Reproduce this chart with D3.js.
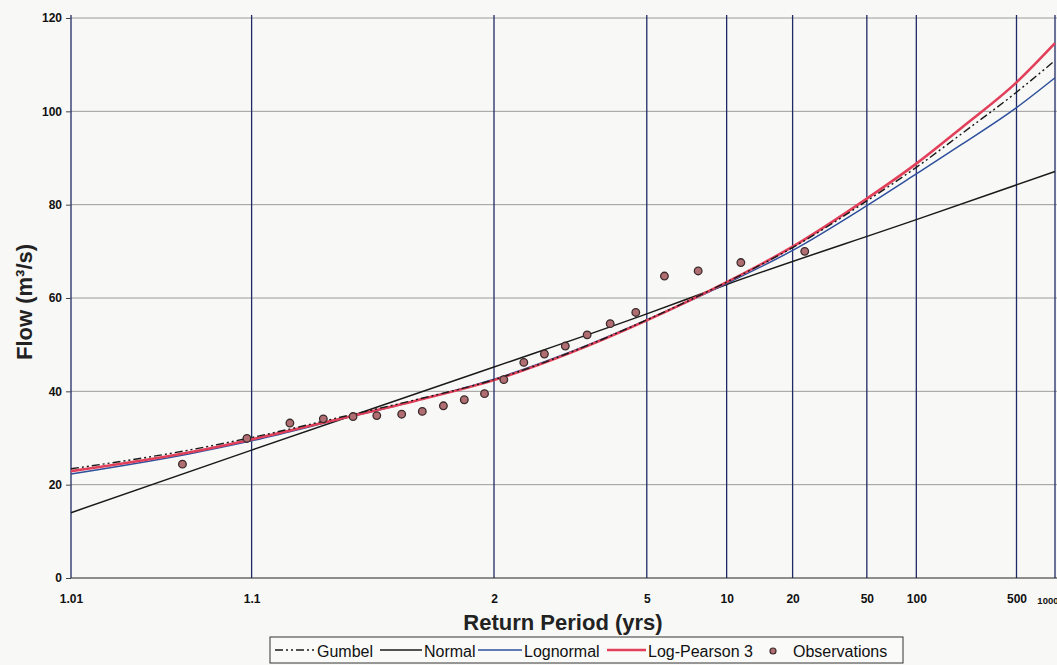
<!DOCTYPE html>
<html>
<head>
<meta charset="utf-8">
<script src="https://cdn.jsdelivr.net/npm/d3@7"></script>
<style>
  body { margin: 0; background: #f8f9f7; }
  text { font-family: "Liberation Sans", Arial, sans-serif; }
</style>
</head>
<body>
<script>
// return periods for the axis / gridlines
var periodTicks = [1.01, 1.1, 2, 5, 10, 20, 50, 100, 500, 1000];
var flowTicks = [0, 20, 40, 60, 80, 100, 120];

// fitted distributions at these return periods
var curvePeriods = [1.01, 1.05, 1.1, 1.25, 1.5, 2, 3, 5, 10, 20, 50, 100, 200, 500, 1000];
var gumbel     = [23.4, 27.5, 30.1, 34.5, 38.2, 42.5, 48.5, 55.3, 63.4, 70.8, 80.8, 88.0, 95.2, 104.1, 110.9];
var lognormal  = [22.3, 26.7, 29.4, 34.1, 38.0, 42.6, 48.6, 55.3, 63.1, 70.2, 79.8, 86.6, 92.9, 100.8, 107.2];
var logPearson = [22.9, 27.0, 29.7, 34.2, 38.0, 42.4, 48.4, 55.2, 63.4, 71.0, 81.3, 88.8, 96.5, 106.2, 114.6];

var normalPeriods = [1.01, 1.1, 2, 5, 10, 100, 1000];
var normal        = [14.0, 27.4, 45.2, 56.6, 62.9, 76.8, 87.1];

// observed annual peaks and their plotting positions
var obsPeriods = [1.045, 1.095, 1.15, 1.21, 1.28, 1.35, 1.44, 1.53, 1.64, 1.77, 1.92,
                  2.09, 2.30, 2.56, 2.88, 3.29, 3.83, 4.60, 5.75, 7.67, 11.5, 23.0];
var obsFlows   = [24.4, 29.9, 33.2, 34.1, 34.6, 34.8, 35.1, 35.7, 36.9, 38.2, 39.5,
                  42.5, 46.2, 48.0, 49.7, 52.1, 54.5, 56.9, 64.7, 65.8, 67.6, 70.0];

var width = 1057, height = 665;
var plotLeft = 71, plotRight = 1055, plotTop = 18, plotBottom = 578;

// inverse normal cdf (Acklam) -> probability paper
function probit(p) {
  var a = [-3.969683028665376e+01, 2.209460984245205e+02, -2.759285104469687e+02, 1.383577518672690e+02, -3.066479806614716e+01, 2.506628277459239e+00];
  var b = [-5.447609879822406e+01, 1.615858368580409e+02, -1.556989798598866e+02, 6.680131188771972e+01, -1.328068155288572e+01];
  var c = [-7.784894002430293e-03, -3.223964580411365e-01, -2.400758277161838e+00, -2.549732539343734e+00, 4.374664141464968e+00, 2.938163982698783e+00];
  var d = [7.784695709041462e-03, 3.224671290700398e-01, 2.445134137142996e+00, 3.754408661907416e+00];
  var q, r;
  if (p < 0.02425) {
    q = Math.sqrt(-2 * Math.log(p));
    return (((((c[0]*q+c[1])*q+c[2])*q+c[3])*q+c[4])*q+c[5]) / ((((d[0]*q+d[1])*q+d[2])*q+d[3])*q+1);
  }
  if (p > 1 - 0.02425) {
    q = Math.sqrt(-2 * Math.log(1 - p));
    return -(((((c[0]*q+c[1])*q+c[2])*q+c[3])*q+c[4])*q+c[5]) / ((((d[0]*q+d[1])*q+d[2])*q+d[3])*q+1);
  }
  q = p - 0.5; r = q * q;
  return (((((a[0]*r+a[1])*r+a[2])*r+a[3])*r+a[4])*r+a[5])*q / (((((b[0]*r+b[1])*r+b[2])*r+b[3])*r+b[4])*r+1);
}
function zt(T) { return probit(1 - 1 / T); }

var x = d3.scaleLinear().domain([zt(1.01), zt(1000)]).range([plotLeft, plotRight]);
var y = d3.scaleLinear().domain([0, 120]).range([plotBottom, plotTop]);

var svg = d3.select("body").append("svg")
    .attr("width", width)
    .attr("height", height);

svg.append("rect").attr("width", width).attr("height", height).attr("fill", "#f8f9f7");

var g = svg.append("g");

// horizontal gridlines
g.selectAll(".hgrid")
    .data(flowTicks.slice(1))
  .enter().append("line")
    .attr("class", "hgrid")
    .attr("x1", plotLeft).attr("x2", width)
    .attr("y1", function(d){ return y(d); })
    .attr("y2", function(d){ return y(d); })
    .attr("stroke", "#9a9c9a")
    .attr("stroke-width", 1);

// vertical gridlines
g.selectAll(".vgrid")
    .data(periodTicks)
  .enter().append("line")
    .attr("class", "vgrid")
    .attr("x1", function(d){ return x(zt(d)); })
    .attr("x2", function(d){ return x(zt(d)); })
    .attr("y1", plotTop - 3).attr("y2", plotBottom)
    .attr("stroke", "#1f2a66")
    .attr("stroke-width", 1.3);

// bottom axis line
g.append("line")
    .attr("x1", plotLeft).attr("x2", width)
    .attr("y1", plotBottom).attr("y2", plotBottom)
    .attr("stroke", "#222").attr("stroke-width", 1.2);

// y axis
var yAxis = g.append("g")
    .attr("transform", "translate(" + plotLeft + ",0)")
    .call(d3.axisLeft(y).tickValues(flowTicks).tickSize(5).tickPadding(4));
yAxis.select(".domain").remove();
yAxis.selectAll("line").attr("stroke", "#444");
yAxis.selectAll("text")
    .style("font-size", "12px")
    .style("font-weight", "bold")
    .attr("fill", "#111");

// x axis (return period on normal probability scale)
var xAxis = g.append("g")
    .attr("transform", "translate(0," + plotBottom + ")")
    .call(d3.axisBottom(x)
      .tickValues(periodTicks.map(zt))
      .tickFormat(function(d, i){ return periodTicks[i]; })
      .tickSize(0).tickPadding(16));
xAxis.select(".domain").remove();
xAxis.selectAll("text")
    .style("font-size", "12px")
    .style("font-weight", "bold")
    .attr("fill", "#111");
xAxis.selectAll("text").filter(function(d, i){ return periodTicks[i] === 1000; })
    .style("font-size", "9.5px")
    .attr("text-anchor", "end")
    .attr("dx", 3)
    .attr("dy", "1.1em");

// curves
function curveLine(periods) {
  return d3.line()
      .x(function(d, i){ return x(zt(periods[i])); })
      .y(function(d){ return y(d); })
      .curve(d3.curveMonotoneX);
}

g.append("path")
    .datum(normal)
    .attr("d", curveLine(normalPeriods))
    .attr("fill", "none")
    .attr("stroke", "#1a1a1a")
    .attr("stroke-width", 1.5);

g.append("path")
    .datum(lognormal)
    .attr("d", curveLine(curvePeriods))
    .attr("fill", "none")
    .attr("stroke", "#2e4f9c")
    .attr("stroke-width", 1.5);

g.append("path")
    .datum(logPearson)
    .attr("d", curveLine(curvePeriods))
    .attr("fill", "none")
    .attr("stroke", "#e2405a")
    .attr("stroke-width", 2.6);

g.append("path")
    .datum(gumbel)
    .attr("d", curveLine(curvePeriods))
    .attr("fill", "none")
    .attr("stroke", "#1a1a1a")
    .attr("stroke-width", 1.4)
    .attr("stroke-dasharray", "8,3,2,3,2,3");

// observations
g.selectAll(".obs")
    .data(obsFlows)
  .enter().append("circle")
    .attr("class", "obs")
    .attr("cx", function(d, i){ return x(zt(obsPeriods[i])); })
    .attr("cy", function(d){ return y(d); })
    .attr("r", 3.8)
    .attr("fill", "#b06e72")
    .attr("stroke", "#3a2a2a")
    .attr("stroke-width", 1.3);

// axis titles
svg.append("text")
    .attr("transform", "translate(32,302)rotate(-90)")
    .attr("text-anchor", "middle")
    .style("font-size", "22px")
    .style("font-weight", "bold")
    .attr("fill", "#222")
    .text("Flow (m³/s)");

svg.append("text")
    .attr("x", 563).attr("y", 630)
    .attr("text-anchor", "middle")
    .style("font-size", "22px")
    .style("font-weight", "bold")
    .attr("fill", "#222")
    .text("Return Period (yrs)");

// legend
var legend = svg.append("g");
legend.append("rect")
    .attr("x", 270).attr("y", 637)
    .attr("width", 633).attr("height", 26)
    .attr("fill", "#fafbf9")
    .attr("stroke", "#333").attr("stroke-width", 1);

var legendItems = [
  {name: "Gumbel", x: 275, w: 40, color: "#1a1a1a", sw: 1.4, dash: "8,3,2,3,2,3"},
  {name: "Normal", x: 380, w: 42, color: "#1a1a1a", sw: 1.3},
  {name: "Lognormal", x: 478, w: 44, color: "#2e4f9c", sw: 1.3},
  {name: "Log-Pearson 3", x: 607, w: 39, color: "#e2405a", sw: 2.6},
  {name: "Observations", marker: true}
];

legendItems.forEach(function(d){
  if (d.marker) {
    legend.append("circle")
        .attr("cx", 773).attr("cy", 651).attr("r", 3)
        .attr("fill", "#b06e72").attr("stroke", "#3a2a2a").attr("stroke-width", 1.2);
    legend.append("text")
        .attr("x", 793).attr("y", 657)
        .style("font-size", "16px").attr("fill", "#111")
        .text(d.name);
    return;
  }
  legend.append("line")
      .attr("x1", d.x).attr("x2", d.x + d.w)
      .attr("y1", 650).attr("y2", 650)
      .attr("stroke", d.color)
      .attr("stroke-width", d.sw)
      .attr("stroke-dasharray", d.dash || null);
  legend.append("text")
      .attr("x", d.x + d.w + 2).attr("y", 657)
      .style("font-size", "16px").attr("fill", "#111")
      .text(d.name);
});
</script>
</body>
</html>
